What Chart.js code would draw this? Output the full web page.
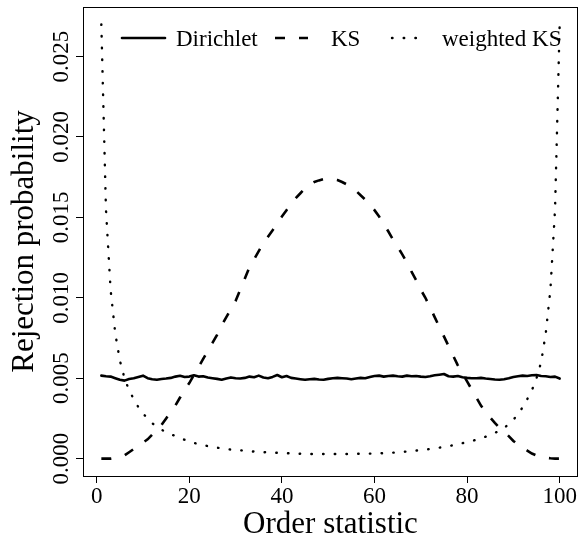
<!DOCTYPE html>
<html>
<head>
<meta charset="utf-8">
<script src="https://cdn.jsdelivr.net/npm/chart.js@4.4.0/dist/chart.umd.min.js"></script>
<style>
  html, body { margin: 0; padding: 0; background: #fff; }
  #wrap { width: 579px; height: 540px; }
</style>
</head>
<body>
<div id="wrap"><canvas id="chart" width="579" height="540"></canvas></div>
<script>
// Order statistic index (x axis)
const orderStat = Array.from({ length: 100 }, (_, i) => i + 1);

// Rejection probabilities
const dirichlet = [
  0.00516, 0.00512, 0.00510, 0.00500, 0.00490, 0.00485, 0.00495, 0.00500, 0.00508, 0.00516,
  0.00500, 0.00494, 0.00490, 0.00495, 0.00498, 0.00502, 0.00510, 0.00515, 0.00508, 0.00510,
  0.00518, 0.00510, 0.00512, 0.00504, 0.00500, 0.00496, 0.00490, 0.00498, 0.00505, 0.00500,
  0.00498, 0.00502, 0.00510, 0.00506, 0.00516, 0.00504, 0.00500, 0.00508, 0.00520, 0.00506,
  0.00514, 0.00502, 0.00498, 0.00494, 0.00490, 0.00494, 0.00496, 0.00492, 0.00490, 0.00496,
  0.00500, 0.00502, 0.00500, 0.00498, 0.00494, 0.00498, 0.00502, 0.00500, 0.00508, 0.00514,
  0.00516, 0.00510, 0.00514, 0.00516, 0.00512, 0.00510, 0.00516, 0.00512, 0.00514, 0.00510,
  0.00508, 0.00512, 0.00518, 0.00522, 0.00526, 0.00512, 0.00510, 0.00514, 0.00506, 0.00502,
  0.00500, 0.00500, 0.00502, 0.00498, 0.00495, 0.00492, 0.00490, 0.00494, 0.00500, 0.00508,
  0.00512, 0.00516, 0.00514, 0.00518, 0.00520, 0.00514, 0.00512, 0.00508, 0.00510, 0.00498
];

const ks = [
  0.00000, 0.00000, 0.00000, 0.00005, 0.00010, 0.00020, 0.00040, 0.00060, 0.00080, 0.00100,
  0.00120, 0.00150, 0.00180, 0.00210, 0.00250, 0.00290, 0.00330, 0.00380, 0.00430, 0.00470,
  0.00520, 0.00570, 0.00620, 0.00670, 0.00720, 0.00770, 0.00830, 0.00880, 0.00930, 0.00980,
  0.01050, 0.01120, 0.01190, 0.01240, 0.01290, 0.01340, 0.01380, 0.01420, 0.01465, 0.01505,
  0.01545, 0.01585, 0.01620, 0.01650, 0.01680, 0.01705, 0.01720, 0.01730, 0.01738, 0.01740,
  0.01738, 0.01732, 0.01720, 0.01705, 0.01685, 0.01665, 0.01638, 0.01610, 0.01578, 0.01545,
  0.01505, 0.01460, 0.01412, 0.01362, 0.01318, 0.01270, 0.01220, 0.01162, 0.01110, 0.01050,
  0.01000, 0.00940, 0.00880, 0.00820, 0.00760, 0.00700, 0.00640, 0.00580, 0.00530, 0.00480,
  0.00430, 0.00380, 0.00330, 0.00290, 0.00255, 0.00222, 0.00192, 0.00168, 0.00140, 0.00110,
  0.00088, 0.00068, 0.00050, 0.00032, 0.00020, 0.00010, 0.00005, 0.00002, 0.00000, 0.00000
];

const weightedKs = [
  0.02700, 0.01550, 0.01050, 0.00780, 0.00610, 0.00500, 0.00425, 0.00370, 0.00320, 0.00280,
  0.00250, 0.00220, 0.00200, 0.00180, 0.00165, 0.00152, 0.00140, 0.00128, 0.00117, 0.00106,
  0.00098, 0.00090, 0.00084, 0.00078, 0.00073, 0.00068, 0.00064, 0.00060, 0.00056, 0.00054,
  0.00052, 0.00049, 0.00046, 0.00044, 0.00042, 0.00040, 0.00039, 0.00038, 0.00036, 0.00035,
  0.00034, 0.00032, 0.00031, 0.00030, 0.00030, 0.00029, 0.00029, 0.00029, 0.00029, 0.00029,
  0.00029, 0.00029, 0.00029, 0.00029, 0.00029, 0.00030, 0.00030, 0.00030, 0.00031, 0.00032,
  0.00033, 0.00034, 0.00035, 0.00037, 0.00040, 0.00042, 0.00044, 0.00047, 0.00050, 0.00053,
  0.00056, 0.00060, 0.00064, 0.00068, 0.00073, 0.00078, 0.00083, 0.00090, 0.00096, 0.00104,
  0.00110, 0.00117, 0.00126, 0.00136, 0.00148, 0.00160, 0.00173, 0.00190, 0.00215, 0.00242,
  0.00275, 0.00320, 0.00370, 0.00425, 0.00500, 0.00600, 0.00780, 0.01050, 0.01550, 0.02700
];

const seriesNames = ['Dirichlet', 'KS', 'weighted KS'];

// Axis ticks
const xTicks = [0, 20, 40, 60, 80, 100];
const yTicks = [0, 0.005, 0.010, 0.015, 0.020, 0.025];
const yTickLabels = ['0.000', '0.005', '0.010', '0.015', '0.020', '0.025'];

const SERIF = '"Liberation Serif", "DejaVu Serif", serif';

function toPoints(values) {
  return orderStat.map((x, i) => ({ x: x, y: values[i] }));
}

// Box, tick labels, axis titles and legend in the R base-graphics look
const rStylePlugin = {
  id: 'rStyle',
  afterDraw(chart) {
    const ctx = chart.ctx;
    const area = chart.chartArea;
    const xs = chart.scales.x;
    const ys = chart.scales.y;

    ctx.save();
    ctx.strokeStyle = '#000';
    ctx.lineWidth = 1;
    ctx.strokeRect(Math.round(area.left) + 0.5, Math.round(area.top) + 0.5,
      Math.round(area.right - area.left) - 1, Math.round(area.bottom - area.top));

    ctx.fillStyle = '#000';
    ctx.font = '23px ' + SERIF;

    // x tick labels
    ctx.textAlign = 'center';
    ctx.textBaseline = 'alphabetic';
    xTicks.forEach(v => {
      ctx.fillText(String(v), xs.getPixelForValue(v), 503);
    });

    // y tick labels, rotated like R's las = 0
    yTicks.forEach((v, i) => {
      ctx.save();
      ctx.translate(68, ys.getPixelForValue(v));
      ctx.rotate(-Math.PI / 2);
      ctx.fillText(yTickLabels[i], 0, 0);
      ctx.restore();
    });

    // axis titles
    ctx.font = '31px ' + SERIF;
    ctx.fillText('Order statistic', (area.left + area.right) / 2, 533);
    ctx.save();
    ctx.translate(33, (area.top + area.bottom) / 2);
    ctx.rotate(-Math.PI / 2);
    ctx.fillText('Rejection probability', 0, 0);
    ctx.restore();

    // legend (horizontal, no box)
    const legendItems = [
      { x0: 122, x1: 165, tx: 176 },
      { x0: 275, x1: 308, tx: 331 },
      { x0: 392, x1: 425, tx: 442 }
    ];
    ctx.font = '23px ' + SERIF;
    ctx.textAlign = 'left';
    legendItems.forEach((item, i) => {
      const ds = chart.data.datasets[i];
      ctx.save();
      ctx.strokeStyle = ds.borderColor;
      ctx.lineWidth = ds.borderWidth;
      ctx.lineCap = ds.borderCapStyle || 'butt';
      ctx.setLineDash(ds.borderDash || []);
      ctx.beginPath();
      ctx.moveTo(item.x0, 38);
      ctx.lineTo(item.x1, 38);
      ctx.stroke();
      ctx.restore();
      ctx.fillText(ds.label, item.tx, 46);
    });
    ctx.restore();
  }
};

function tickGrid() {
  return {
    drawOnChartArea: false,
    drawTicks: true,
    tickLength: 7,
    color: '#000',
    lineWidth: 1
  };
}

new Chart(document.getElementById('chart'), {
  type: 'line',
  data: {
    datasets: [
      {
        label: seriesNames[0],
        data: toPoints(dirichlet),
        borderColor: '#000',
        borderWidth: 2.6,
        borderCapStyle: 'round',
        borderJoinStyle: 'round',
        pointRadius: 0,
        tension: 0
      },
      {
        label: seriesNames[1],
        data: toPoints(ks),
        borderColor: '#000',
        borderWidth: 2.6,
        borderDash: [10, 14],
        borderCapStyle: 'butt',
        pointRadius: 0,
        tension: 0
      },
      {
        label: seriesNames[2],
        data: toPoints(weightedKs),
        borderColor: '#000',
        borderWidth: 2.4,
        borderDash: [0.5, 11.2],
        borderCapStyle: 'round',
        pointRadius: 0,
        tension: 0
      }
    ]
  },
  options: {
    responsive: false,
    animation: false,
    events: [],
    layout: { padding: { top: 7, right: 1, left: 0, bottom: 0 } },
    plugins: {
      legend: { display: false },
      tooltip: { enabled: false }
    },
    scales: {
      x: {
        type: 'linear',
        min: -2.96,
        max: 103.96,
        afterBuildTicks: s => { s.ticks = xTicks.map(v => ({ value: v })); },
        afterFit: s => { s.height = 64; },
        ticks: { display: false },
        grid: tickGrid(),
        border: { display: false }
      },
      y: {
        type: 'linear',
        min: -0.00108,
        max: 0.02808,
        afterBuildTicks: s => { s.ticks = yTicks.map(v => ({ value: v })); },
        afterFit: s => { s.width = 83; },
        ticks: { display: false },
        grid: tickGrid(),
        border: { display: false }
      }
    }
  },
  plugins: [rStylePlugin]
});
</script>
</body>
</html>
